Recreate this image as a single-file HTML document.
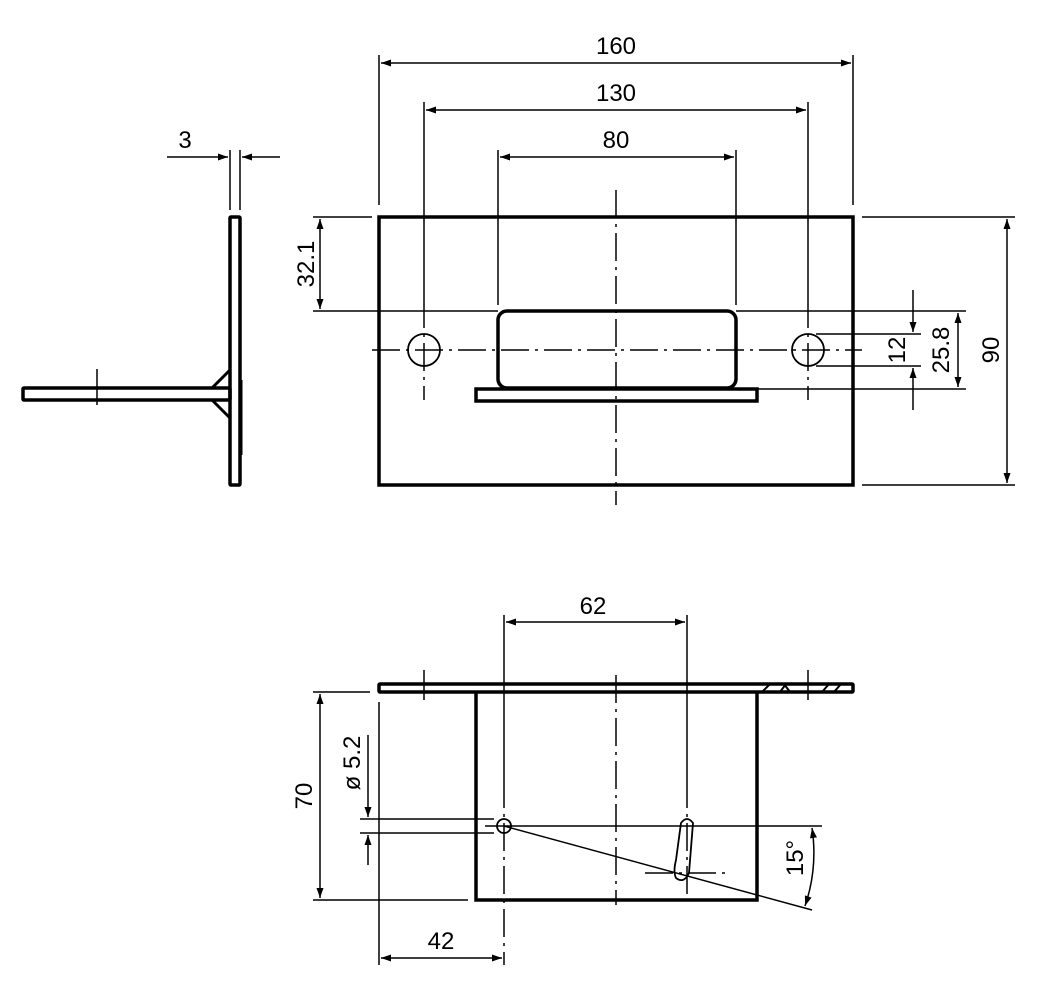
<!DOCTYPE html>
<html><head><meta charset="utf-8"><style>body{margin:0;background:#fff}svg{display:block}text{font-family:"Liberation Sans",sans-serif;font-size:24px;fill:#000}</style></head><body>
<svg width="1039" height="992" viewBox="0 0 1039 992" xmlns="http://www.w3.org/2000/svg">
<defs><marker id="a" viewBox="0 0 10 10" refX="10" refY="5" markerWidth="20" markerHeight="10" markerUnits="userSpaceOnUse" orient="auto-start-reverse"><path d="M0,1.5L10,5L0,8.5z" fill="#000"/></marker></defs>
<g fill="none" stroke="#000">
<rect x="379" y="217" width="474" height="268" stroke-width="3.5"/>
<rect x="498" y="311" width="238" height="77" rx="9" stroke-width="3.5"/>
<rect x="476" y="389" width="281" height="12" stroke-width="3.5"/>
<circle cx="424" cy="350" r="16" stroke-width="1.8"/>
<circle cx="808" cy="350" r="16" stroke-width="1.8"/>
<g stroke-width="1.5" stroke-dasharray="28,6,3,6">
<line x1="372" y1="350" x2="862" y2="350"/>
<line x1="616" y1="190" x2="616" y2="505"/>
<line x1="424" y1="300" x2="424" y2="400"/>
<line x1="808" y1="300" x2="808" y2="400"/>
</g>
<g stroke-width="1.5">
<line x1="379" y1="55" x2="379" y2="205"/><line x1="853" y1="55" x2="853" y2="205"/>
<line x1="424" y1="102" x2="424" y2="300"/><line x1="808" y1="102" x2="808" y2="300"/>
<line x1="498" y1="150" x2="498" y2="305"/><line x1="736" y1="150" x2="736" y2="305"/>
<line x1="381" y1="63" x2="851" y2="63" marker-start="url(#a)" marker-end="url(#a)"/>
<line x1="426" y1="110" x2="806" y2="110" marker-start="url(#a)" marker-end="url(#a)"/>
<line x1="500" y1="157" x2="734" y2="157" marker-start="url(#a)" marker-end="url(#a)"/>
<line x1="313" y1="217" x2="372" y2="217"/><line x1="313" y1="311" x2="498" y2="311"/>
<line x1="320" y1="219" x2="320" y2="309" marker-start="url(#a)" marker-end="url(#a)"/>
<line x1="862" y1="217" x2="1015" y2="217"/><line x1="862" y1="485" x2="1015" y2="485"/>
<line x1="1007" y1="219" x2="1007" y2="483" marker-start="url(#a)" marker-end="url(#a)"/>
<line x1="736" y1="311" x2="966" y2="311"/><line x1="757" y1="389" x2="966" y2="389"/>
<line x1="958" y1="313" x2="958" y2="387" marker-start="url(#a)" marker-end="url(#a)"/>
<line x1="816" y1="334" x2="921" y2="334"/><line x1="816" y1="366" x2="921" y2="366"/>
<line x1="913" y1="290" x2="913" y2="332" marker-end="url(#a)"/>
<line x1="913" y1="410" x2="913" y2="368" marker-end="url(#a)"/>
</g>
<rect x="230" y="217" width="10" height="268" rx="1" stroke-width="3.5"/>
<rect x="23" y="388" width="207" height="12" rx="1" stroke-width="3.5"/>
<path d="M212,388L230,370M212,400L230,418" stroke-width="3"/>
<path d="M241,380L241,455" stroke-width="3"/>
<g stroke-width="1.5">
<line x1="97" y1="369" x2="97" y2="405"/>
<line x1="230" y1="150" x2="230" y2="210"/><line x1="240" y1="150" x2="240" y2="210"/>
<line x1="167" y1="157" x2="228" y2="157" marker-end="url(#a)"/>
<line x1="280" y1="157" x2="242" y2="157" marker-end="url(#a)"/>
</g>
<rect x="379" y="684" width="474" height="8" rx="1" stroke-width="3.5"/>
<path d="M476,692V900H757V692" stroke-width="3.5"/>
<path d="M762,692L770,684M780,692L786,684M790,692L784,684M822,692L829,684M834,692L841,684" stroke-width="2"/>
<circle cx="504" cy="826" r="7" stroke-width="1.8"/>
<path d="M681,823Q687,815 693,823L689,873Q684,884 676,878Q673,872 676,860Z" stroke-width="1.8"/>
<g stroke-width="1.5" stroke-dasharray="28,6,3,6">
<line x1="616" y1="675" x2="616" y2="905"/>
<line x1="504" y1="780" x2="504" y2="965"/>
<line x1="687" y1="780" x2="687" y2="900"/>
<line x1="645" y1="873" x2="725" y2="873"/>
</g>
<g stroke-width="1.5">
<line x1="424" y1="670" x2="424" y2="700"/><line x1="808" y1="670" x2="808" y2="700"/>
<line x1="504" y1="615" x2="504" y2="780"/><line x1="687" y1="615" x2="687" y2="780"/>
<line x1="506" y1="622" x2="685" y2="622" marker-start="url(#a)" marker-end="url(#a)"/>
<line x1="313" y1="692" x2="370" y2="692"/><line x1="313" y1="900" x2="468" y2="900"/>
<line x1="320" y1="694" x2="320" y2="898" marker-start="url(#a)" marker-end="url(#a)"/>
<line x1="379" y1="702" x2="379" y2="965"/>
<line x1="381" y1="958" x2="502" y2="958" marker-start="url(#a)" marker-end="url(#a)"/>
<line x1="360" y1="819" x2="494" y2="819"/><line x1="360" y1="833" x2="494" y2="833"/>
<line x1="368" y1="735" x2="368" y2="817" marker-end="url(#a)"/>
<line x1="368" y1="865" x2="368" y2="835" marker-end="url(#a)"/>
<line x1="485" y1="826" x2="822" y2="826"/>
<line x1="504" y1="826" x2="812" y2="910"/>
<path d="M812,828Q818,868 805,906" marker-start="url(#a)" marker-end="url(#a)"/>
</g>
</g>
<text x="616" y="54" text-anchor="middle">160</text>
<text x="616" y="101" text-anchor="middle">130</text>
<text x="616" y="148" text-anchor="middle">80</text>
<text x="185" y="148" text-anchor="middle">3</text>
<text transform="translate(314,264) rotate(-90)" text-anchor="middle">32.1</text>
<text transform="translate(999,350) rotate(-90)" text-anchor="middle">90</text>
<text transform="translate(949,350) rotate(-90)" text-anchor="middle">25.8</text>
<text transform="translate(905,350) rotate(-90)" text-anchor="middle">12</text>
<text x="593" y="614" text-anchor="middle">62</text>
<text x="441" y="949" text-anchor="middle">42</text>
<text transform="translate(312,796) rotate(-90)" text-anchor="middle">70</text>
<text transform="translate(360,763) rotate(-90)" text-anchor="middle">ø 5.2</text>
<text transform="translate(803,858) rotate(-90)" text-anchor="middle">15°</text>
</svg>
</body></html>
